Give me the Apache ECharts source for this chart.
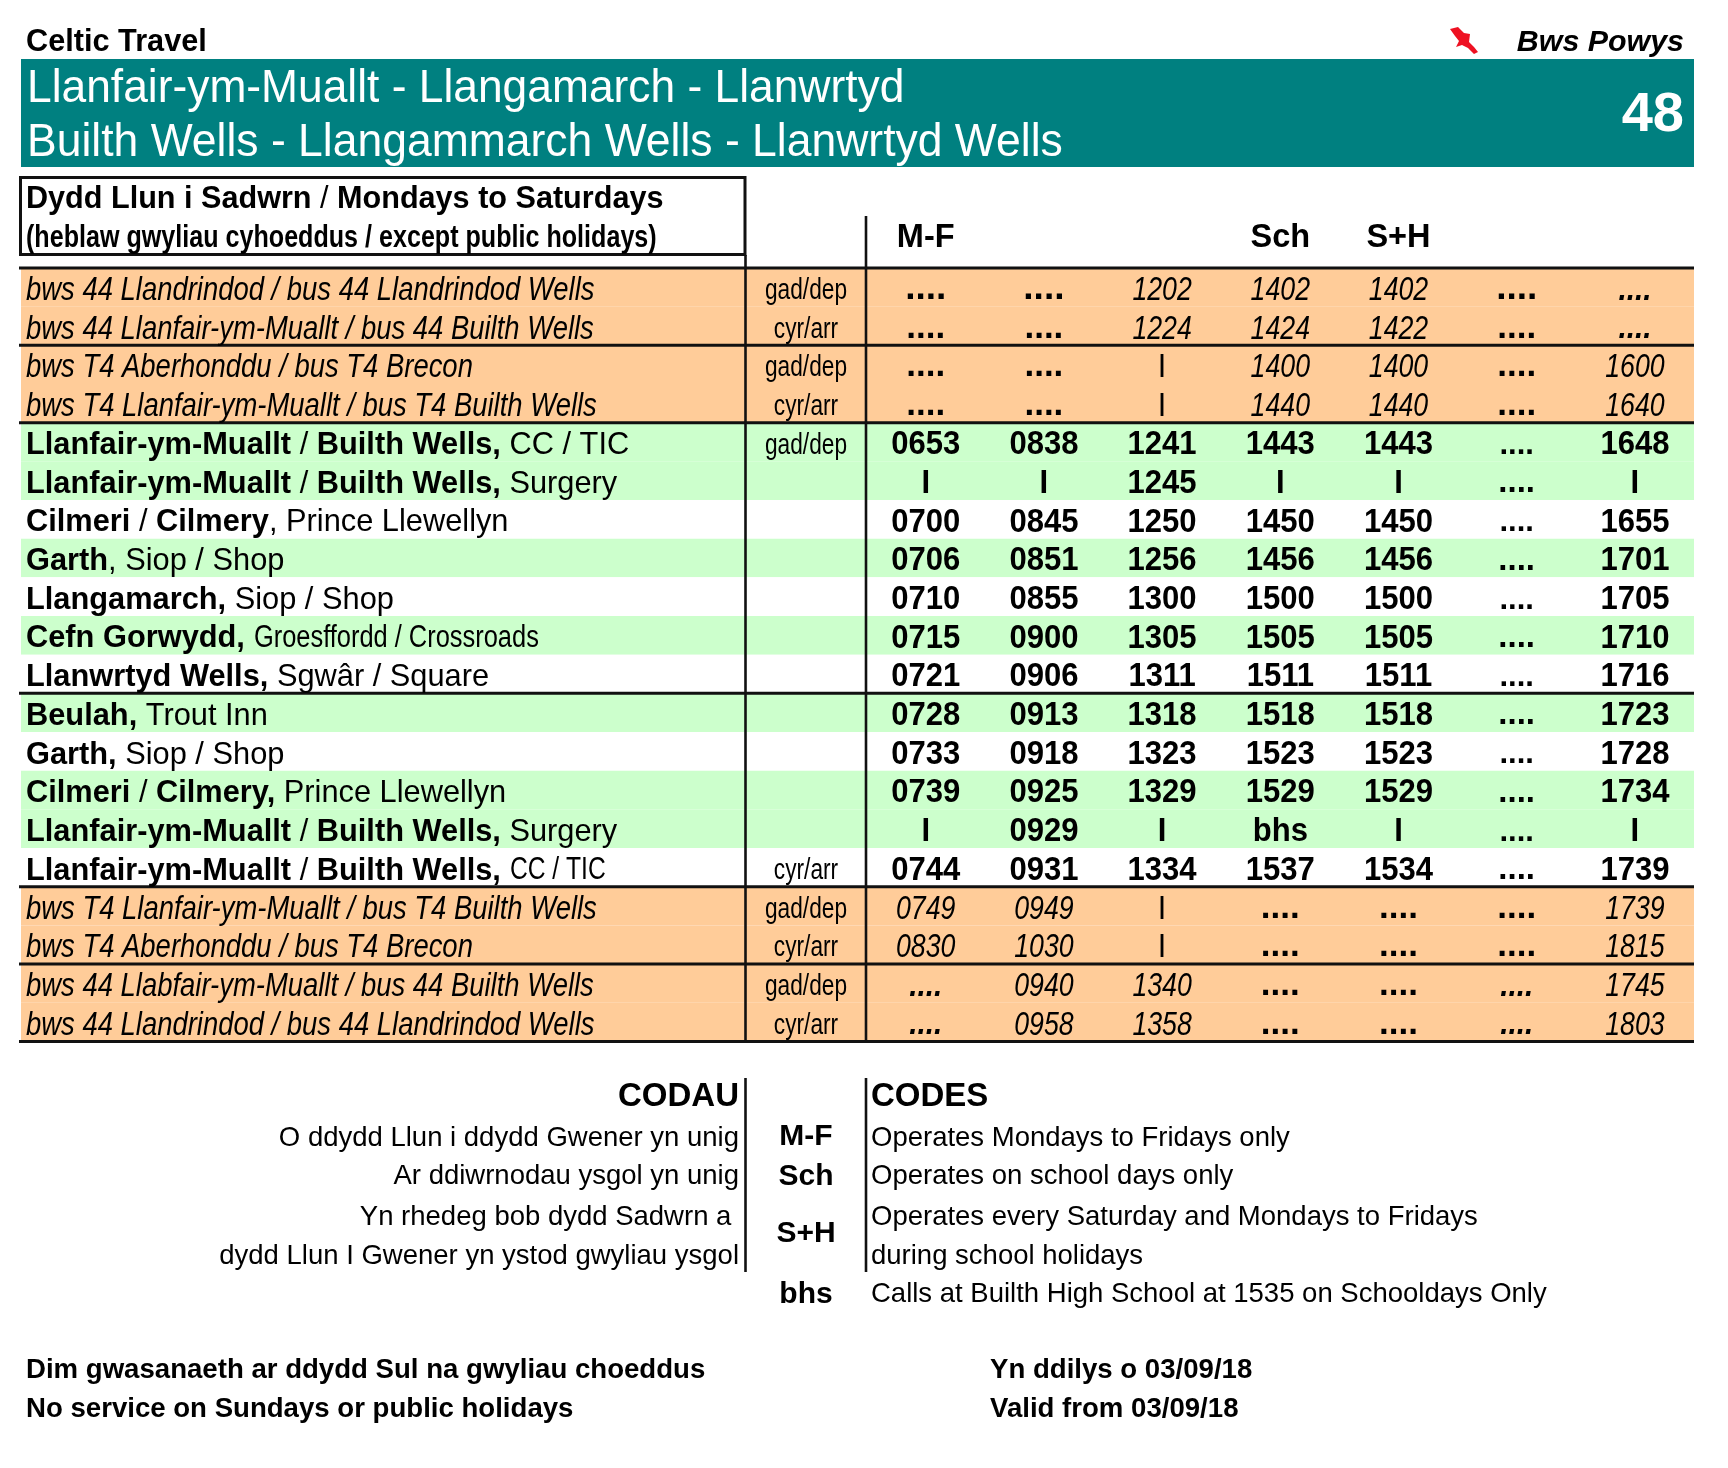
<!DOCTYPE html>
<html>
<head>
<meta charset="utf-8">
<title>Bws Powys 48</title>
<script src="https://cdn.jsdelivr.net/npm/echarts@6/dist/echarts.min.js"></script>
<style>
    html, body { margin: 0; padding: 0; background: #fff; }
    #chart { width: 1728px; height: 1468px; }
</style>
</head>
<body>
<div id="chart"></div>
<script>
// Timetable data. Rows run top to bottom.
const stopPlaces = [
    'bws 44 Llandrindod / bus 44 Llandrindod Wells',
    'bws 44 Llanfair-ym-Muallt / bus 44 Builth Wells',
    'bws T4 Aberhonddu / bus T4 Brecon',
    'bws T4 Llanfair-ym-Muallt / bus T4 Builth Wells',
    'Llanfair-ym-Muallt / Builth Wells,',
    'Llanfair-ym-Muallt / Builth Wells,',
    'Cilmeri / Cilmery',
    'Garth',
    'Llangamarch,',
    'Cefn Gorwydd,',
    'Llanwrtyd Wells,',
    'Beulah,',
    'Garth,',
    'Cilmeri / Cilmery,',
    'Llanfair-ym-Muallt / Builth Wells,',
    'Llanfair-ym-Muallt / Builth Wells,',
    'bws T4 Llanfair-ym-Muallt / bus T4 Builth Wells',
    'bws T4 Aberhonddu / bus T4 Brecon',
    'bws 44 Llabfair-ym-Muallt / bus 44 Builth Wells',
    'bws 44 Llandrindod / bus 44 Llandrindod Wells'
];
const stopDetails = [
    '', '', '', '',
    ' CC / TIC', ' Surgery', ', Prince Llewellyn', ', Siop / Shop', ' Siop / Shop',
    ' Groesffordd / Crossroads', ' Sgwâr / Square', ' Trout Inn', ' Siop / Shop',
    ' Prince Llewellyn', ' Surgery', ' CC / TIC',
    '', '', '', ''
];
const rowKinds = [
    'link', 'link', 'link', 'link',
    'green', 'green', 'white', 'green', 'white', 'green', 'white',
    'green', 'white', 'green', 'green', 'white',
    'link', 'link', 'link', 'link'
];
const directions = [
    'gad/dep', 'cyr/arr', 'gad/dep', 'cyr/arr', 'gad/dep', '', '', '', '', '',
    '', '', '', '', '', 'cyr/arr', 'gad/dep', 'cyr/arr', 'gad/dep', 'cyr/arr'
];
const tripCodes = ['M-F', '', '', 'Sch', 'S+H', '', ''];

const trip1 = ['....', '....', '....', '....', '0653', 'I', '0700', '0706', '0710', '0715', '0721', '0728', '0733', '0739', 'I', '0744', '0749', '0830', '....', '....'];
const trip2 = ['....', '....', '....', '....', '0838', 'I', '0845', '0851', '0855', '0900', '0906', '0913', '0918', '0925', '0929', '0931', '0949', '1030', '0940', '0958'];
const trip3 = ['1202', '1224', 'I', 'I', '1241', '1245', '1250', '1256', '1300', '1305', '1311', '1318', '1323', '1329', 'I', '1334', 'I', 'I', '1340', '1358'];
const trip4 = ['1402', '1424', '1400', '1440', '1443', 'I', '1450', '1456', '1500', '1505', '1511', '1518', '1523', '1529', 'bhs', '1537', '....', '....', '....', '....'];
const trip5 = ['1402', '1422', '1400', '1440', '1443', 'I', '1450', '1456', '1500', '1505', '1511', '1518', '1523', '1529', 'I', '1534', '....', '....', '....', '....'];
const trip6 = ['....', '....', '....', '....', '....', '....', '....', '....', '....', '....', '....', '....', '....', '....', '....', '....', '....', '....', '....', '....'];
const trip7 = ['....', '....', '1600', '1640', '1648', 'I', '1655', '1701', '1705', '1710', '1716', '1723', '1728', '1734', 'I', '1739', '1739', '1815', '1745', '1803'];
const trips = [trip1, trip2, trip3, trip4, trip5, trip6, trip7];

// rows that close a block of the table (count of rows above the rule)
const ruleAfterRows = [0, 2, 4, 11, 16, 18, 20];

const codeWelsh = ['CODAU', 'O ddydd Llun i ddydd Gwener yn unig', 'Ar ddiwrnodau ysgol yn unig', 'Yn rhedeg bob dydd Sadwrn a ', 'dydd Llun I Gwener yn ystod gwyliau ysgol', ''];
const codeNames = ['', 'M-F', 'Sch', '', '', 'bhs'];
const codeEnglish = ['CODES', 'Operates Mondays to Fridays only', 'Operates on school days only', 'Operates every Saturday and Mondays to Fridays', 'during school holidays', 'Calls at Builth High School at 1535 on Schooldays Only'];

// layout and styles
const SANS = '"Liberation Sans", Arial, sans-serif';
const TEAL = '#008080';
const kindColors = { link: '#FFCC99', green: '#CCFFCC', white: '#FFFFFF' };
const detailSqueeze = { 9: 0.82, 15: 0.795 };
const TABLE_TOP = 268;
const TABLE_HEIGHT = 773.4;
const TEXT_DROP = 3.3; // Liberation sits a little high on verticalAlign middle
const STOP_SIZE = 32;
const STOP_SQUEEZE = 0.962;
const codeRowY = [1097, 1138, 1176, 1217, 1256, 1294];
const codeNameY = [0, 1137, 1177, 0, 0, 1295];

function tableGrid(left, width) {
    return { left, width, top: TABLE_TOP, height: TABLE_HEIGHT, show: false };
}

function rowAxis(gridIndex) {
    return {
        type: 'category', gridIndex, data: stopPlaces, inverse: true, show: false,
        axisLabel: { interval: 0 }
    };
}

function plainXAxis(gridIndex) {
    return { type: 'category', gridIndex, data: ['all'], show: false };
}

// source used a condensed face, so squeeze the regular one sideways
function squeezed(text, x, y, font, scaleX, align) {
    return {
        type: 'text', x, y, scaleX,
        style: { text, x: 0, y: 0, font, fill: '#000', align: align || 'left', verticalAlign: 'middle' }
    };
}

const measureCtx = document.createElement('canvas').getContext('2d');
function placeWidth(place) {
    let width = 0;
    place.split(' / ').forEach((part, i) => {
        measureCtx.font = `bold ${STOP_SIZE}px "Liberation Sans"`;
        width += measureCtx.measureText(part).width;
        if (i > 0) {
            measureCtx.font = `${STOP_SIZE}px "Liberation Sans"`;
            width += measureCtx.measureText(' / ').width;
        }
    });
    return width * STOP_SQUEEZE;
}

function renderBand(params, api) {
    const cs = params.coordSys;
    const row = api.value(1);
    const c = api.coord([0, row]);
    const h = api.size([0, 1])[1];
    return {
        type: 'rect',
        shape: { x: cs.x, y: c[1] - h / 2, width: cs.width, height: h },
        style: { fill: kindColors[rowKinds[row]] },
        silent: true
    };
}

function renderRule(params, api) {
    const cs = params.coordSys;
    const count = api.value(1);
    const h = api.size([0, 1])[1];
    const y = count === 0
        ? api.coord([0, 0])[1] - h / 2
        : api.coord([0, count - 1])[1] + h / 2;
    return {
        type: 'line',
        shape: { x1: cs.x - 2, y1: y, x2: cs.x + cs.width, y2: y },
        style: { stroke: '#111', lineWidth: 3 },
        silent: true
    };
}

function richPlace(place) {
    // the slash between the Welsh and English names stays in the light weight
    return place.split(' / ').map((part) => `{b|${part}}`).join('{r| / }');
}

function renderStop(params, api) {
    const row = api.value(1);
    const y = api.coord([0, row])[1] + TEXT_DROP;
    const x = params.coordSys.x + 5;
    const place = stopPlaces[row];
    if (rowKinds[row] === 'link') {
        return squeezed(place, x, y, `italic 34px ${SANS}`, 0.807);
    }
    const narrow = detailSqueeze[row];
    const main = {
        type: 'text', x, y, scaleX: STOP_SQUEEZE,
        style: {
            x: 0, y: 0, verticalAlign: 'middle', fill: '#000',
            text: richPlace(place) + (narrow ? '' : `{r|${stopDetails[row]}}`),
            rich: {
                b: { fontFamily: SANS, fontWeight: 'bold', fontSize: STOP_SIZE, fill: '#000' },
                r: { fontFamily: SANS, fontSize: STOP_SIZE, fill: '#000' }
            }
        }
    };
    if (!narrow) return main;
    const detailX = x + placeWidth(place) + 9;
    return {
        type: 'group',
        children: [main, squeezed(stopDetails[row].trim(), detailX, y, `31px ${SANS}`, narrow)]
    };
}

function renderDirection(params, api) {
    const row = api.value(1);
    const x = params.coordSys.x + params.coordSys.width / 2 + 0.5;
    return squeezed(directions[row], x, api.coord([0, row])[1] + TEXT_DROP, `30px ${SANS}`, 0.757, 'center');
}

function isThinDots(row, col) {
    return (col === 6 && row < 2) || ((col === 0 || col === 5) && row > 17);
}

function renderTime(params, api) {
    const col = api.value(0);
    const row = api.value(1);
    const pos = api.coord([col, row]);
    const y = pos[1] + TEXT_DROP;
    const value = trips[col][row];
    const link = rowKinds[row] === 'link';
    if (value === '....') {
        if (isThinDots(row, col)) return squeezed(value, pos[0], y, `italic bold 33px ${SANS}`, 0.9, 'center');
        const size = link ? (row === 0 ? 37 : 35) : (row % 2 ? 33 : 31);
        return squeezed(value, pos[0], y - (size - 31) * 0.36, `bold ${size}px ${SANS}`, 1, 'center');
    }
    if (link) {
        return value === 'I'
            ? squeezed(value, pos[0], y, `34px ${SANS}`, 0.9, 'center')
            : squeezed(value, pos[0], y, `italic 34px ${SANS}`, 0.785, 'center');
    }
    return squeezed(value, pos[0], y, `bold 32.5px ${SANS}`, 0.955, 'center');
}

function label(text, x, y, font, extra) {
    const { scaleX, ...style } = extra || {};
    return {
        type: 'text', z: 20, x, y, scaleX: scaleX || 1,
        style: Object.assign({ text, x: 0, y: 0, font, fill: '#000', textVerticalAlign: 'middle' }, style)
    };
}

function vLine(x, y1, y2) {
    return {
        type: 'line', z: 20,
        shape: { x1: x, y1, x2: x, y2 },
        style: { stroke: '#111', lineWidth: 2.6 }
    };
}

const furniture = [
    { type: 'rect', z: 10, shape: { x: 21, y: 59, width: 1673, height: 108 }, style: { fill: TEAL } },
    label('Celtic Travel', 26, 43, `bold 30.7px ${SANS}`),
    label('Bws Powys', 1684, 43, `italic bold 30.4px ${SANS}`, { textAlign: 'right' }),
    {
        type: 'polygon', z: 20,
        shape: { points: [[1450, 29], [1458, 27], [1464, 33], [1470, 34], [1469, 42], [1474, 47], [1478, 52], [1474, 54], [1468, 48], [1462, 45], [1456, 47], [1459, 41], [1455, 36]] },
        style: { fill: '#EE1122' }
    },
    label('Llanfair-ym-Muallt - Llangamarch - Llanwrtyd', 27, 89, `46px ${SANS}`, { fill: '#fff', scaleX: 0.964 }),
    label('Builth Wells - Llangammarch Wells - Llanwrtyd Wells', 27, 143, `46px ${SANS}`, { fill: '#fff', scaleX: 0.967 }),
    label('48', 1684, 116, `bold 56px ${SANS}`, { fill: '#fff', textAlign: 'right' }),
    { type: 'rect', z: 20, shape: { x: 20.5, y: 177.5, width: 724.5, height: 77 }, style: { fill: 'none', stroke: '#111', lineWidth: 3 } },
    {
        type: 'text', z: 20,
        style: {
            x: 26, y: 200, textVerticalAlign: 'middle', fill: '#000',
            text: '{b|Dydd Llun i Sadwrn}{r| / }{b|Mondays to Saturdays}',
            rich: {
                b: { fontFamily: SANS, fontWeight: 'bold', fontSize: 30.6, fill: '#000' },
                r: { fontFamily: SANS, fontSize: 30.6, fill: '#000' }
            }
        }
    },
    label('(heblaw gwyliau cyhoeddus / except public holidays)', 26, 238.5, `bold 31px ${SANS}`, { scaleX: 0.81 }),
    vLine(745.5, 255, 1041),
    vLine(866, 216, 1041),
    vLine(745.5, 1078, 1272),
    vLine(866, 1078, 1272),
    label('S+H', 806, 1234, `bold 30px ${SANS}`, { textAlign: 'center' }),
    label('Dim gwasanaeth ar ddydd Sul na gwyliau choeddus', 26, 1370, `bold 27.6px ${SANS}`),
    label('No service on Sundays or public holidays', 26, 1409, `bold 27.6px ${SANS}`),
    label('Yn ddilys o 03/09/18', 990, 1370, `bold 27.6px ${SANS}`),
    label('Valid from 03/09/18', 990, 1409, `bold 27.6px ${SANS}`)
];

codeRowY.forEach((y, i) => {
    const font = i === 0 ? `bold 33px ${SANS}` : `27.5px ${SANS}`;
    furniture.push(label(codeWelsh[i], 739, y, font, { textAlign: 'right' }));
    furniture.push(label(codeEnglish[i], 871, y, font));
    if (codeNames[i]) furniture.push(label(codeNames[i], 806, codeNameY[i], `bold 30px ${SANS}`, { textAlign: 'center' }));
});

const chart = echarts.init(document.getElementById('chart'), null, { renderer: 'canvas' });

const rowIndexes = stopPlaces.map((_, i) => [0, i]);
const timeCells = [];
trips.forEach((trip, col) => trip.forEach((_, row) => timeCells.push([col, row])));

chart.setOption({
    animation: false,
    backgroundColor: '#fff',
    grid: [tableGrid(21, 1673), tableGrid(21, 724), tableGrid(745, 121), tableGrid(866.6, 827.4)],
    xAxis: [
        plainXAxis(0),
        plainXAxis(1),
        plainXAxis(2),
        {
            type: 'category', gridIndex: 3, data: tripCodes, position: 'top',
            axisLine: { show: false }, axisTick: { show: false }, splitLine: { show: false },
            axisLabel: {
                interval: 0, margin: 13, color: '#000',
                fontFamily: SANS, fontWeight: 'bold', fontSize: 32.5
            }
        }
    ],
    yAxis: [rowAxis(0), rowAxis(1), rowAxis(2), rowAxis(3)],
    series: [
        { type: 'custom', name: 'bands', xAxisIndex: 0, yAxisIndex: 0, z: 1, data: rowIndexes, renderItem: renderBand },
        { type: 'custom', name: 'rules', xAxisIndex: 0, yAxisIndex: 0, z: 2, data: ruleAfterRows.map((n) => [0, n]), renderItem: renderRule, clip: false },
        { type: 'custom', name: 'stops', xAxisIndex: 1, yAxisIndex: 1, z: 3, data: rowIndexes, renderItem: renderStop },
        { type: 'custom', name: 'directions', xAxisIndex: 2, yAxisIndex: 2, z: 3, data: rowIndexes, renderItem: renderDirection },
        { type: 'custom', name: 'times', xAxisIndex: 3, yAxisIndex: 3, z: 3, data: timeCells, renderItem: renderTime }
    ],
    graphic: { elements: furniture }
});
</script>
</body>
</html>
